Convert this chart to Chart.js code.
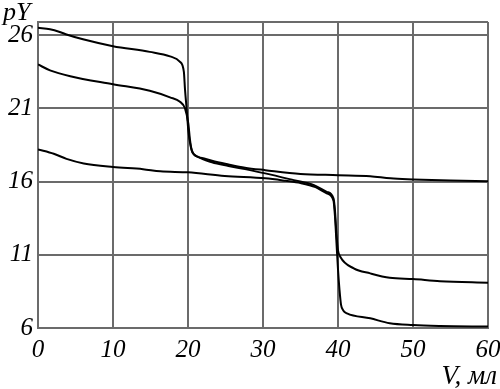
<!DOCTYPE html>
<html lang="ru">
<head>
<meta charset="UTF-8">
<title>pY – V</title>
<script src="https://cdn.jsdelivr.net/npm/chart.js@4.4.1/dist/chart.umd.min.js"></script>
<style>
  html, body { margin: 0; padding: 0; background: #fff; }
  #wrap { width: 500px; height: 389px; position: relative; }
</style>
</head>
<body>
<div id="wrap"><canvas id="chart"></canvas></div>
<script>
// x ticks and y ticks
const xTicks = [0, 10, 20, 30, 40, 50, 60];
const yTicks = [6, 11, 16, 21, 26];

// curve 1: starts ~26.5, one jump at 20 ml
const c1V  = [0, 1.6, 2.9, 3.8, 6, 10, 14.9, 17.6, 18.9, 19.45, 19.6, 19.83, 20.04, 20.36, 20.7, 22.0, 23.2, 25.4, 27.6, 30.3, 35, 40, 44.3, 47, 50, 55, 60];
const c1pY = [26.5, 26.4, 26.22, 26.05, 25.72, 25.25, 24.86, 24.55, 24.2, 23.5, 22.3, 20.9, 19.5, 18.4, 17.9, 17.6, 17.42, 17.17, 16.95, 16.78, 16.52, 16.44, 16.37, 16.22, 16.15, 16.07, 16.03];

// curve 2: starts ~24, jumps at 20 and 40 ml
const c2V  = [0, 1.6, 4.3, 10, 14.9, 17.6, 18.93, 19.6, 20.04, 20.27, 20.5, 21.4, 23.2, 25.4, 27.6, 30.3, 34.1, 36.8, 38.5, 39.4, 39.6, 39.8, 40.0, 40.3, 42.1, 44.3, 46.9, 50, 53.6, 60];
const c2pY = [24.0, 23.6, 23.2, 22.65, 22.2, 21.75, 21.45, 21.0, 19.97, 18.83, 18.15, 17.68, 17.32, 17.07, 16.85, 16.56, 16.1, 15.76, 15.3, 14.85, 14.0, 12.4, 11.3, 10.87, 10.07, 9.73, 9.43, 9.34, 9.2, 9.09];

// curve 3: starts ~18.2, jump at 40 ml
const c3V  = [0, 2.1, 3.8, 6.1, 10, 14, 16.3, 20, 24.9, 30.3, 33, 35, 37, 38.5, 39.4, 39.6, 39.8, 40.0, 40.2, 40.4, 40.7, 41.2, 44.3, 46.9, 50, 53.6, 60];
const c3pY = [18.2, 17.9, 17.55, 17.24, 17.0, 16.85, 16.7, 16.63, 16.38, 16.22, 16.05, 15.9, 15.62, 15.2, 14.7, 13.6, 11.8, 10.0, 8.6, 7.6, 7.2, 7.0, 6.66, 6.32, 6.2, 6.14, 6.1];

const toPts = (xs, ys) => xs.map((x, i) => ({ x: x, y: ys[i] }));

const gridColor = '#6b6b6b';
const labelFont = { family: '"Liberation Serif", "Times New Roman", serif', size: 25, style: 'italic' };

const textPlugin = {
  id: 'texts',
  afterDraw(chart) {
    const ctx = chart.ctx;
    const a = chart.chartArea;
    ctx.save();
    // top frame line
    ctx.strokeStyle = gridColor;
    ctx.lineWidth = 2;
    ctx.beginPath();
    ctx.moveTo(a.left, a.top);
    ctx.lineTo(a.right, a.top);
    ctx.stroke();
    // axis names
    ctx.fillStyle = '#000';
    ctx.textBaseline = 'alphabetic';
    ctx.font = 'italic 26px "Liberation Serif", serif';
    ctx.textAlign = 'left';
    ctx.fillText('pY', 3, 20);
    ctx.font = 'italic 27px "Liberation Serif", serif';
    ctx.textAlign = 'right';
    ctx.fillText('V, мл', 497, 384);
    ctx.restore();
  }
};

function line(data) {
  return {
    data: data,
    borderColor: '#000',
    borderWidth: 2,
    pointRadius: 0,
    fill: false,
    cubicInterpolationMode: 'monotone'
  };
}

new Chart(document.getElementById('chart'), {
  type: 'line',
  data: {
    datasets: [
      line(toPts(c1V, c1pY)),
      line(toPts(c2V, c2pY)),
      line(toPts(c3V, c3pY))
    ]
  },
  options: {
    responsive: true,
    maintainAspectRatio: false,
    animation: false,
    layout: { padding: { top: 22, right: 12 } },
    plugins: { legend: { display: false }, tooltip: { enabled: false } },
    scales: {
      x: {
        type: 'linear',
        min: 0,
        max: 60,
        afterFit: s => { s.height = 61; s.paddingLeft = 0; s.paddingRight = 0; },
        afterBuildTicks: s => { s.ticks = xTicks.map(v => ({ value: v })); },
        grid: { color: gridColor, lineWidth: 2, drawTicks: false },
        border: { color: gridColor, width: 2 },
        ticks: { color: '#000', font: labelFont, padding: 7, maxRotation: 0 }
      },
      y: {
        type: 'linear',
        min: 6,
        max: 26.9,
        afterFit: s => { s.width = 38; s.paddingTop = 0; s.paddingBottom = 0; },
        afterBuildTicks: s => { s.ticks = yTicks.map(v => ({ value: v })); },
        grid: { color: gridColor, lineWidth: 2, drawTicks: false },
        border: { color: gridColor, width: 2 },
        ticks: { color: '#000', font: labelFont, padding: 5 }
      }
    }
  },
  plugins: [textPlugin]
});
</script>
</body>
</html>
